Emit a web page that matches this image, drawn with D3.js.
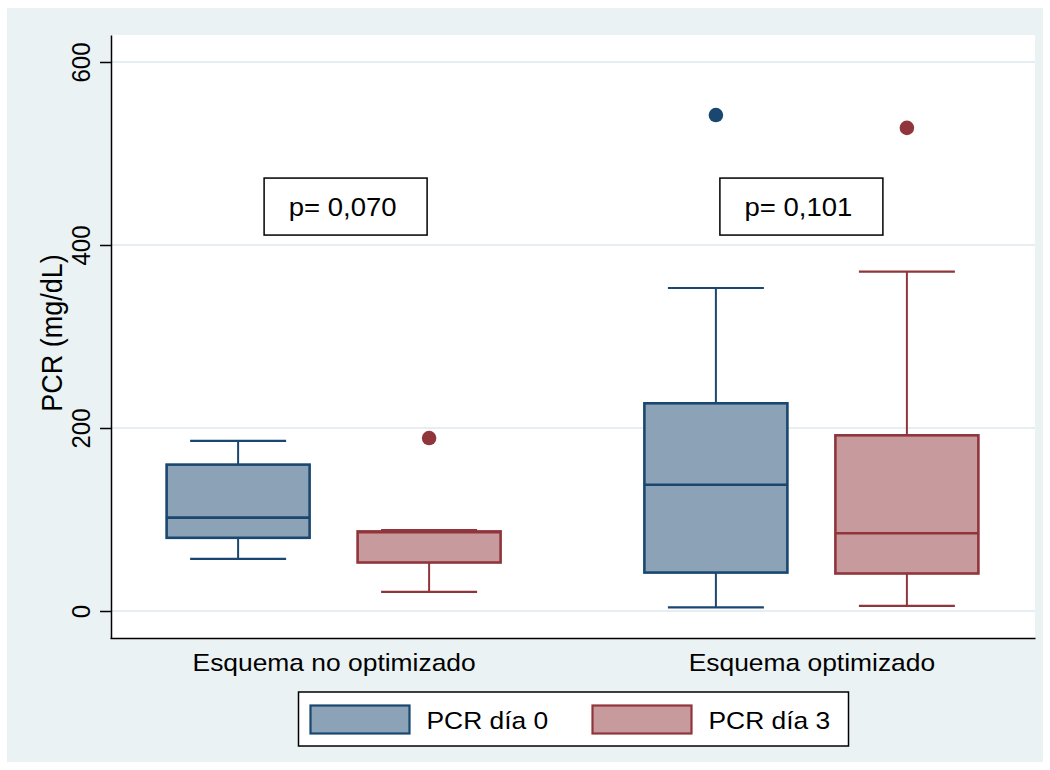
<!DOCTYPE html>
<html>
<head>
<meta charset="utf-8">
<script src="https://cdn.jsdelivr.net/npm/d3@7"></script>
<style>
  html, body { margin: 0; padding: 0; background: #ffffff; }
  svg { display: block; }
  text { font-family: "Liberation Sans", Arial, sans-serif; fill: #000; }
</style>
</head>
<body>
<svg id="chart" width="1050" height="770"></svg>
<script>
// Categories and series
const groups = ["Esquema no optimizado", "Esquema optimizado"];
const seriesNames = ["PCR día 0", "PCR día 3"];

// Box statistics per group (PCR, mg/dL) — día 0
const lowWhisker0 = [57, 4];
const q1_0 = [80, 42];
const median0 = [102, 138];
const q3_0 = [160, 227];
const highWhisker0 = [186, 353];
const outliers0 = [[], [542]];

// Box statistics per group — día 3
const lowWhisker3 = [21, 5.5];
const q1_3 = [53, 41];
const median3 = [86, 85];
const q3_3 = [87, 192];
const highWhisker3 = [88.5, 371];
const outliers3 = [[189], [528]];

// p-value annotations per group
const pLabels = ["p= 0,070", "p= 0,101"];
const pLabelValue = [442, 442];

// Y axis ticks
const yTicks = [0, 200, 400, 600];
const yTitle = "PCR (mg/dL)";

const colors = {
  stroke: ["#1A476F", "#90353B"],
  fill: ["#8CA3B7", "#C79A9D"]
};

// Assemble per-box records from the arrays above
const stats = [
  { lo: lowWhisker0, q1: q1_0, med: median0, q3: q3_0, hi: highWhisker0, out: outliers0 },
  { lo: lowWhisker3, q1: q1_3, med: median3, q3: q3_3, hi: highWhisker3, out: outliers3 }
];
const boxes = [];
groups.forEach((g, gi) => {
  seriesNames.forEach((s, si) => {
    const st = stats[si];
    boxes.push({
      group: g, series: s, si,
      lo: st.lo[gi], q1: st.q1[gi], med: st.med[gi], q3: st.q3[gi], hi: st.hi[gi],
      out: st.out[gi]
    });
  });
});

const plot = { left: 111, right: 1035, top: 35, bottom: 638 };
const SX = 1.1; // horizontal text stretch

const svg = d3.select("#chart");

// Outer graph region
svg.append("rect")
  .attr("x", 7).attr("y", 8).attr("width", 1036).attr("height", 754)
  .attr("fill", "#EAF2F3");

// Plot region
svg.append("rect")
  .attr("x", plot.left).attr("y", plot.top)
  .attr("width", plot.right - plot.left).attr("height", plot.bottom - plot.top)
  .attr("fill", "#ffffff");

const y = d3.scaleLinear().domain([-29.5, 629.5]).range([plot.bottom, plot.top]);
const x = d3.scalePoint().domain(groups).range([plot.left - 1, plot.right]).padding(0.468);
const xs = d3.scalePoint().domain(seriesNames).range([-95.5, 95.5]);
const boxW = 143, capW = 96;

// Gridlines
svg.append("g").selectAll("line").data(yTicks).join("line")
  .attr("x1", plot.left).attr("x2", plot.right)
  .attr("y1", d => y(d)).attr("y2", d => y(d))
  .attr("stroke", "#E6EEF1").attr("stroke-width", 2);

// Y axis
const yAxis = svg.append("g")
  .attr("transform", `translate(${plot.left},0)`)
  .call(d3.axisLeft(y).tickValues(yTicks).tickSize(11).tickSizeOuter(0).tickFormat(d3.format("d")));
yAxis.select(".domain").attr("stroke", "#000").attr("stroke-width", 1.5);
yAxis.selectAll(".tick line").attr("stroke", "#000").attr("stroke-width", 1.5);
yAxis.selectAll(".tick text")
  .attr("x", null).attr("dy", null).attr("text-anchor", "middle")
  .attr("font-size", 24).attr("font-family", "Liberation Sans, Arial, sans-serif").attr("fill", "#000")
  .attr("transform", `translate(-21.5,0) scale(${SX},1) rotate(-90)`);

// X axis
const xAxis = svg.append("g")
  .attr("transform", `translate(0,${plot.bottom})`)
  .call(d3.axisBottom(x).tickSize(0).tickSizeOuter(0));
xAxis.select(".domain").attr("stroke", "#000").attr("stroke-width", 1.5);
xAxis.selectAll(".tick text")
  .attr("y", null).attr("dy", null)
  .attr("font-size", 24).attr("font-family", "Liberation Sans, Arial, sans-serif").attr("fill", "#000")
  .attr("transform", `translate(0,33) scale(${SX},1)`);

// Y title
svg.append("text")
  .attr("text-anchor", "middle")
  .attr("font-size", 27)
  .attr("transform", `translate(62,333) scale(${SX},1) rotate(-90)`)
  .text(yTitle);

// Boxes
const bg = svg.append("g").selectAll("g").data(boxes).join("g")
  .attr("transform", d => `translate(${x(d.group) + xs(d.series)},0)`);

// whiskers
bg.append("line")
  .attr("x1", 0).attr("x2", 0)
  .attr("y1", d => y(d.q3)).attr("y2", d => y(d.hi))
  .attr("stroke", d => colors.stroke[d.si]).attr("stroke-width", 2);
bg.append("line")
  .attr("x1", 0).attr("x2", 0)
  .attr("y1", d => y(d.q1)).attr("y2", d => y(d.lo))
  .attr("stroke", d => colors.stroke[d.si]).attr("stroke-width", 2);
// caps
bg.selectAll("line.cap").data(d => [d.hi, d.lo].map(v => ({ v, si: d.si }))).join("line")
  .attr("class", "cap")
  .attr("x1", -capW / 2).attr("x2", capW / 2)
  .attr("y1", d => y(d.v)).attr("y2", d => y(d.v))
  .attr("stroke", d => colors.stroke[d.si]).attr("stroke-width", 2.2);
// box
bg.append("rect")
  .attr("x", -boxW / 2).attr("width", boxW)
  .attr("y", d => y(d.q3)).attr("height", d => y(d.q1) - y(d.q3))
  .attr("fill", d => colors.fill[d.si])
  .attr("stroke", d => colors.stroke[d.si]).attr("stroke-width", 2.6);
// median
bg.append("line")
  .attr("x1", -boxW / 2).attr("x2", boxW / 2)
  .attr("y1", d => y(d.med)).attr("y2", d => y(d.med))
  .attr("stroke", d => colors.stroke[d.si]).attr("stroke-width", 2.6);
// outliers
bg.selectAll("circle").data(d => d.out.map(v => ({ v, si: d.si }))).join("circle")
  .attr("cx", 0).attr("cy", d => y(d.v)).attr("r", 7.3)
  .attr("fill", d => colors.stroke[d.si]);

// p-value boxes
const pOffset = [12, -10];
const pg = svg.append("g").selectAll("g").data(groups).join("g")
  .attr("transform", (g, i) => `translate(${x(g) + pOffset[i]},${y(pLabelValue[i])})`);
pg.append("rect")
  .attr("x", -81.5).attr("y", -28.5).attr("width", 163).attr("height", 57)
  .attr("fill", "#fff").attr("stroke", "#000").attr("stroke-width", 1.5);
pg.append("text")
  .attr("text-anchor", "middle")
  .attr("font-family", "Lato, 'Open Sans', sans-serif")
  .attr("font-size", 25)
  .attr("transform", `translate(-3,9) scale(${SX},1)`)
  .text((g, i) => pLabels[i]);

// Legend
const lg = svg.append("g");
lg.append("rect")
  .attr("x", 298.5).attr("y", 692).attr("width", 550).attr("height", 54)
  .attr("fill", "#fff").attr("stroke", "#000").attr("stroke-width", 1.5);
const swX = [310.5, 592.5];
const li = lg.selectAll("g.item").data(seriesNames).join("g")
  .attr("class", "item")
  .attr("transform", (d, i) => `translate(${swX[i]},0)`);
li.append("rect")
  .attr("x", 0).attr("y", 705.5).attr("width", 99).attr("height", 28)
  .attr("fill", (d, i) => colors.fill[i])
  .attr("stroke", (d, i) => colors.stroke[i]).attr("stroke-width", 2.2);
li.append("text")
  .attr("font-size", 24)
  .attr("transform", `translate(116,729) scale(${SX},1)`)
  .text(d => d);
</script>
</body>
</html>
